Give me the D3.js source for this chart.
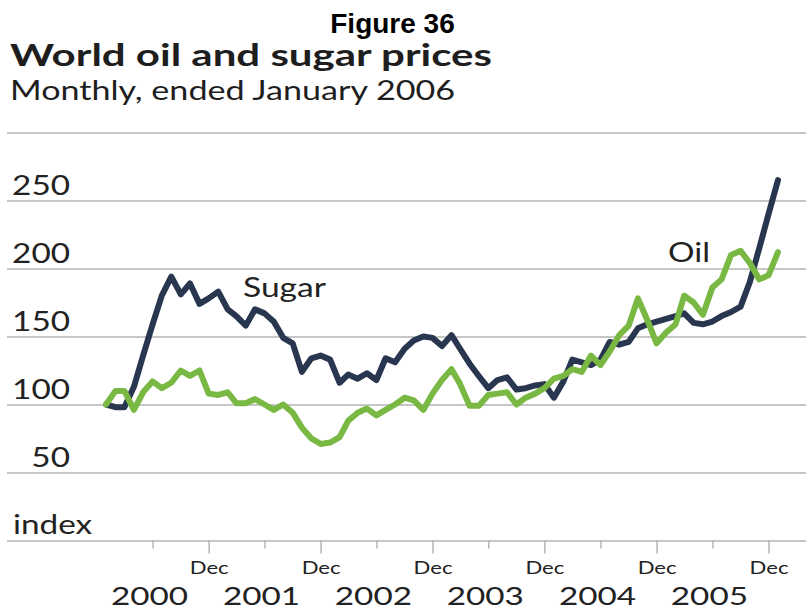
<!DOCTYPE html>
<html>
<head>
<meta charset="utf-8">
<script src="https://cdn.jsdelivr.net/npm/d3@7/dist/d3.min.js"></script>
<style>
  body { margin: 0; background: #fff; }
  svg text { font-family: Lato, "Noto Sans", sans-serif; fill: #222; }
</style>
</head>
<body>
<svg id="chart" width="806" height="611"></svg>
<script>
// Monthly index values, January 2000 = 100, through January 2006
const months = d3.timeMonths(new Date(2000, 0, 1), new Date(2006, 0, 2));

const sugar = [
  100, 98, 98, 113, 136, 159, 180, 194, 181, 189, 174, 178,
  183, 170, 165, 158, 170, 167, 161, 149, 145, 124, 134, 136,
  133, 116, 122, 119, 123, 118, 134, 131, 141, 147, 150, 149,
  143, 151, 141, 130, 121, 112, 118, 120, 111, 112, 114, 115,
  105, 117, 133, 131, 129, 133, 146, 144, 146, 156, 159, 161,
  163, 165, 167, 160, 159, 161, 165, 168, 172, 190, 215, 240,
  265
];

const oil = [
  100, 110, 110, 96, 109, 117, 112, 116, 125, 121, 125, 108,
  107, 109, 101, 101, 104, 100, 96, 100, 94, 83, 75, 71,
  72, 76, 88, 94, 97, 92, 96, 100, 105, 103, 96, 108,
  118, 126, 115, 99, 99, 107, 108, 109, 100, 105, 108, 112,
  119, 121, 126, 124, 136, 129, 139, 151, 158, 178, 162, 145,
  153, 159, 180, 175, 166, 186, 192, 210, 213, 204, 192, 195,
  212
];

const gridValues = [0, 50, 100, 150, 200, 250, 300];
const yLabelValues = [50, 100, 150, 200, 250];
const years = [2000, 2001, 2002, 2003, 2004, 2005];
const decTicks = years.map(yr => new Date(yr, 11, 1));
const midTicks = years.map(yr => new Date(yr, 5, 1));

const svg = d3.select("#chart");
const W = 806;

const x = d3.scaleTime()
  .domain([months[0], months[months.length - 1]])
  .range([106, 778]);

const y = d3.scaleLinear()
  .domain([0, 300])
  .range([540.5, 132.5]);

// widen glyphs to the geometric face used in the chart's typography
function stretch(sel, k) {
  sel.each(function () {
    const w = this.getComputedTextLength();
    this.setAttribute("textLength", w * k);
    this.setAttribute("lengthAdjust", "spacingAndGlyphs");
  });
}
const K = 1.28;

// headings
svg.append("text")
  .attr("x", 392.5).attr("y", 33)
  .attr("text-anchor", "middle")
  .style("font-family", '"Liberation Sans", Arial, sans-serif')
  .style("font-weight", 700)
  .style("font-size", "28px")
  .style("fill", "#000")
  .text("Figure 36");

svg.append("text")
  .attr("x", 10).attr("y", 66)
  .attr("textLength", 482).attr("lengthAdjust", "spacingAndGlyphs")
  .style("font-weight", 700)
  .style("font-size", "30px")
  .style("fill", "#1e1e1e")
  .text("World oil and sugar prices");

svg.append("text")
  .attr("x", 10).attr("y", 100)
  .attr("textLength", 445).attr("lengthAdjust", "spacingAndGlyphs")
  .style("font-weight", 400)
  .style("font-size", "26px")
  .style("fill", "#1e1e1e")
  .text("Monthly, ended January 2006");

// horizontal gridlines
const grid = svg.append("g")
  .attr("transform", "translate(7,0)")
  .call(d3.axisRight(y).tickValues(gridValues).tickSize(W - 7).tickFormat(""));
grid.select(".domain").remove();
grid.selectAll(".tick line").attr("stroke", "#b4b4b4").attr("stroke-width", 1.5);

// value labels sit just above their gridlines
const yLab = svg.append("g").selectAll("text")
  .data(yLabelValues)
  .join("text")
  .attr("x", 70)
  .attr("y", d => y(d) - 6)
  .attr("text-anchor", "end")
  .style("font-size", "26px")
  .text(d => d);
stretch(yLab, K);

const idx = svg.append("text")
  .attr("x", 13).attr("y", y(0) - 7)
  .style("font-size", "26px")
  .text("index");
stretch(idx, K);

// x axis: long ticks at December, short ticks mid-year
const axDec = svg.append("g")
  .attr("transform", `translate(0,${y(0)})`)
  .call(d3.axisBottom(x).tickValues(decTicks).tickSize(13).tickFormat(() => "Dec"));
axDec.select(".domain").remove();
axDec.selectAll(".tick line").attr("stroke", "#b4b4b4").attr("stroke-width", 1.5);
axDec.selectAll(".tick text")
  .attr("y", 33).attr("dy", 0)
  .style("font-family", "Lato, sans-serif")
  .style("font-size", "17px")
  .style("fill", "#222");
stretch(axDec.selectAll(".tick text"), 1.3);

const axMid = svg.append("g")
  .attr("transform", `translate(0,${y(0)})`)
  .call(d3.axisBottom(x).tickValues(midTicks).tickSize(8).tickFormat(""));
axMid.select(".domain").remove();
axMid.selectAll(".tick line").attr("stroke", "#b4b4b4").attr("stroke-width", 1.5);

const yearLab = svg.append("g").selectAll("text")
  .data(years)
  .join("text")
  .attr("x", d => x(new Date(d, 5, 1)) - 3)
  .attr("y", 605)
  .attr("text-anchor", "middle")
  .style("font-size", "25px")
  .text(d => d);
stretch(yearLab, 1.33);

// series
const line = d3.line()
  .x((d, i) => x(months[i]))
  .y(d => y(d));

svg.append("path")
  .datum(sugar)
  .attr("d", line)
  .attr("fill", "none")
  .attr("stroke", "#28364f")
  .attr("stroke-width", 6)
  .attr("stroke-linejoin", "round")
  .attr("stroke-linecap", "round");

svg.append("path")
  .datum(oil)
  .attr("d", line)
  .attr("fill", "none")
  .attr("stroke", "#78b843")
  .attr("stroke-width", 6)
  .attr("stroke-linejoin", "round")
  .attr("stroke-linecap", "round");

// series names
svg.append("text")
  .attr("x", 243).attr("y", 297)
  .attr("textLength", 83).attr("lengthAdjust", "spacingAndGlyphs")
  .style("font-size", "26px")
  .text("Sugar");

svg.append("text")
  .attr("x", 668).attr("y", 262)
  .attr("textLength", 42).attr("lengthAdjust", "spacingAndGlyphs")
  .style("font-size", "26px")
  .text("Oil");
</script>
</body>
</html>
